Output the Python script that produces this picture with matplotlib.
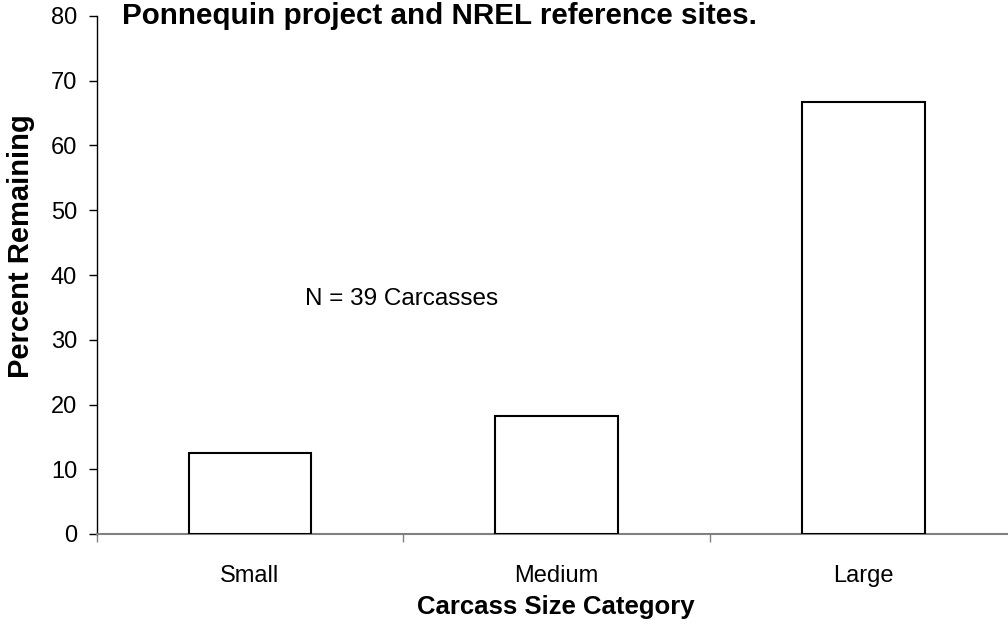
import numpy as np
import matplotlib
matplotlib.use('Agg')
import matplotlib.pyplot as plt

# values
categories = ['Small', 'Medium', 'Large']
percent_remaining = [12.5, 18.2, 66.7]

plt.rcParams['font.family'] = ['Liberation Sans', 'DejaVu Sans']

fig = plt.figure(figsize=(10.08, 6.4), dpi=100)
ax = fig.add_axes([96.5 / 1008, 106 / 640, 920 / 1008, 518 / 640])

x = np.arange(len(categories))
ax.bar(x, percent_remaining, width=0.4, color='white', edgecolor='black', linewidth=1.5, zorder=3)

ax.set_xlim(-0.5, 2.5)
ax.set_ylim(0, 80)
ax.set_yticks(range(0, 81, 10))
ax.set_xticks(x)
ax.set_xticklabels(categories)
ax.set_xticks([-0.5, 0.5, 1.5, 2.5], minor=True)

ax.tick_params(axis='x', which='major', length=0, pad=22, labelsize=17)
ax.tick_params(axis='x', which='minor', length=6, width=1, color='#808080', direction='out')
ax.tick_params(axis='y', length=6, width=1, color='black', direction='out', pad=8, labelsize=17)

for s in ['top', 'right']:
    ax.spines[s].set_visible(False)
ax.spines['left'].set_color('black')
ax.spines['left'].set_linewidth(1)
ax.spines['bottom'].set_color('#808080')
ax.spines['bottom'].set_linewidth(1.5)

ax.text(0.18, 36.3, 'N = 39 Carcasses', fontsize=17.5, va='center', ha='left')

fig.text(122 / 1008, 1 - 16 / 640, 'Ponnequin project and NREL reference sites.',
         fontsize=21.3, fontweight='bold', va='center', ha='left')
fig.text(21.5 / 1008, 1 - 246 / 640, 'Percent Remaining', rotation=90,
         fontsize=21, fontweight='bold', va='center', ha='center')
fig.text(556 / 1008, 1 - 607 / 640, 'Carcass Size Category',
         fontsize=18.5, fontweight='bold', va='center', ha='center')

fig.savefig('out.png', dpi=100)
